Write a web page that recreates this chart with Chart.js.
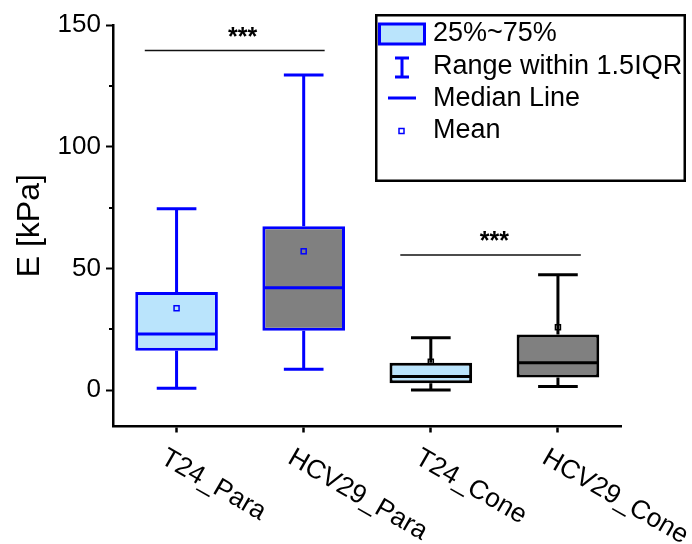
<!DOCTYPE html>
<html>
<head>
<meta charset="utf-8">
<script src="https://cdn.jsdelivr.net/npm/chart.js@4.4.1/dist/chart.umd.min.js"></script>
<style>
  html, body { margin: 0; padding: 0; background: #fff; }
  #wrap { width: 692px; height: 544px; }
</style>
</head>
<body>
<div id="wrap"><canvas id="boxChart" width="692" height="544"></canvas></div>
<script>
// Young's modulus per cell line / region
const categories = ["T24_Para", "HCV29_Para", "T24_Cone", "HCV29_Cone"];
const whiskerLow = [0.7, 8.5, 0, 1.4];
const q1 = [16.1, 24.3, 2.8, 5.1];
const median = [23, 42, 5.5, 11.2];
const q3 = [40.3, 67.3, 11.2, 22.8];
const whiskerHigh = [74.5, 129.5, 21.5, 47.4];
const means = [33.6, 57, 11.6, 25.8];

const yTicks = [0, 50, 100, 150];
const yMinorTicks = [25, 75, 125];

// significance brackets: category-index span, height, star position
const sigFrom = [-0.25, 1.76];
const sigTo = [1.165, 3.18];
const sigLevel = [139.5, 55.5];
const sigStarX = [0.52, 2.5];
const sigText = ["***", "***"];

const legendLabels = ["25%~75%", "Range within 1.5IQR", "Median Line", "Mean"];

const FONT = '"Liberation Sans", Arial, sans-serif';
const BLUE = "#0000ff";
const LIGHT = "#bae4fc";
const GREY = "#808080";
const fills = [LIGHT, GREY, LIGHT, GREY];
const strokes = [BLUE, BLUE, "#000000", "#000000"];

Chart.defaults.font.family = FONT;
Chart.defaults.color = "#000";

const boxExtras = {
  id: "boxExtras",
  afterDatasetsDraw(chart) {
    const { ctx, scales: { x, y } } = chart;
    const bars = chart.getDatasetMeta(0).data;
    ctx.save();
    bars.forEach((bar, i) => {
      const cx = bar.x;
      const half = bar.width / 2;
      const capHalf = half * 0.48;
      const hi = y.getPixelForValue(whiskerHigh[i]);
      const lo = y.getPixelForValue(whiskerLow[i]);
      ctx.strokeStyle = strokes[i];
      ctx.lineWidth = 3;
      ctx.beginPath();
      ctx.moveTo(cx, y.getPixelForValue(q3[i]));
      ctx.lineTo(cx, hi);
      ctx.moveTo(cx - capHalf, hi);
      ctx.lineTo(cx + capHalf, hi);
      ctx.moveTo(cx, y.getPixelForValue(q1[i]));
      ctx.lineTo(cx, lo);
      ctx.moveTo(cx - capHalf, lo);
      ctx.lineTo(cx + capHalf, lo);
      const my = y.getPixelForValue(median[i]);
      ctx.moveTo(cx - half + 1.5, my);
      ctx.lineTo(cx + half - 1.5, my);
      ctx.stroke();

      // mean marker
      const mp = y.getPixelForValue(means[i]);
      ctx.lineWidth = 1.5;
      ctx.strokeRect(cx - 2.5, mp - 2.5, 5, 5);
    });

    // significance brackets
    ctx.strokeStyle = "#111";
    ctx.lineWidth = 1.5;
    ctx.fillStyle = "#000";
    ctx.font = "bold 25px " + FONT;
    ctx.textAlign = "center";
    ctx.textBaseline = "alphabetic";
    sigFrom.forEach((from, i) => {
      const ly = y.getPixelForValue(sigLevel[i]);
      ctx.beginPath();
      ctx.moveTo(x.getPixelForValue(from), ly);
      ctx.lineTo(x.getPixelForValue(sigTo[i]), ly);
      ctx.stroke();
      ctx.fillText(sigText[i], x.getPixelForValue(sigStarX[i]), ly - 5.5);
    });
    ctx.restore();
  },
  afterDraw(chart) {
    const { ctx, chartArea, scales: { x, y } } = chart;
    ctx.save();
    // minor ticks on the y axis
    ctx.strokeStyle = "#000";
    ctx.lineWidth = 2;
    ctx.beginPath();
    yMinorTicks.forEach((v) => {
      const py = Math.round(y.getPixelForValue(v));
      ctx.moveTo(chartArea.left - 4, py);
      ctx.lineTo(chartArea.left, py);
    });
    ctx.stroke();

    // slanted category labels
    ctx.fillStyle = "#000";
    ctx.font = "26.5px " + FONT;
    ctx.textAlign = "left";
    ctx.textBaseline = "top";
    categories.forEach((label, i) => {
      ctx.save();
      ctx.translate(x.getPixelForValue(i) - 7, chartArea.bottom + 18);
      ctx.rotate(Math.PI / 6);
      ctx.fillText(label, 0, 0);
      ctx.restore();
    });

    // legend box
    ctx.lineWidth = 2.5;
    ctx.strokeStyle = "#000";
    ctx.strokeRect(376.25, 15.25, 308.5, 165.5);

    ctx.fillStyle = LIGHT;
    ctx.fillRect(379.5, 24, 45, 20);
    ctx.strokeStyle = BLUE;
    ctx.lineWidth = 3;
    ctx.strokeRect(379.5, 24, 45, 20);

    ctx.beginPath();
    ctx.moveTo(402, 58);
    ctx.lineTo(402, 77);
    ctx.moveTo(395, 58);
    ctx.lineTo(409, 58);
    ctx.moveTo(395, 77);
    ctx.lineTo(409, 77);
    ctx.moveTo(388, 98);
    ctx.lineTo(416, 98);
    ctx.stroke();
    ctx.lineWidth = 1.5;
    ctx.strokeRect(399, 128.5, 5, 5);

    ctx.fillStyle = "#000";
    ctx.font = "27px " + FONT;
    ctx.textBaseline = "alphabetic";
    const baselines = [41, 73.5, 106, 138];
    legendLabels.forEach((t, i) => ctx.fillText(t, 433, baselines[i]));
    ctx.restore();
  }
};

new Chart(document.getElementById("boxChart"), {
  type: "bar",
  data: {
    labels: categories,
    datasets: [{
      data: q1.map((v, i) => [v, q3[i]]),
      backgroundColor: fills,
      borderColor: strokes,
      borderWidth: 3,
      borderSkipped: false,
      barPercentage: 0.65,
      categoryPercentage: 1
    }]
  },
  options: {
    responsive: false,
    animation: false,
    layout: { padding: { left: 0, top: 25, right: 70.5, bottom: 0 } },
    plugins: { legend: { display: false }, tooltip: { enabled: false } },
    scales: {
      x: {
        offset: true,
        grid: { display: true, drawOnChartArea: false, offset: false, tickLength: 6, tickWidth: 2.5, tickColor: "#000" },
        border: { display: true, color: "#000", width: 2.5 },
        ticks: { display: false },
        afterFit(scale) { scale.height = 117.5; }
      },
      y: {
        min: -15,
        max: 150,
        grid: {
          display: true,
          drawOnChartArea: false,
          tickLength: 7,
          tickWidth: 2,
          tickColor: (c) => (c.tick && yTicks.includes(c.tick.value) ? "#000" : "rgba(0,0,0,0)")
        },
        border: { display: true, color: "#000", width: 2.5 },
        ticks: {
          stepSize: 25,
          includeBounds: false,
          padding: 5,
          font: { size: 26 },
          color: "#000",
          callback: (v) => (yTicks.includes(v) ? String(v) : "")
        },
        title: { display: true, text: "E [kPa]", font: { size: 32 }, color: "#000", padding: { top: 11, bottom: 0 } },
        afterFit(scale) { scale.width = 113; }
      }
    }
  },
  plugins: [boxExtras]
});
</script>
</body>
</html>
